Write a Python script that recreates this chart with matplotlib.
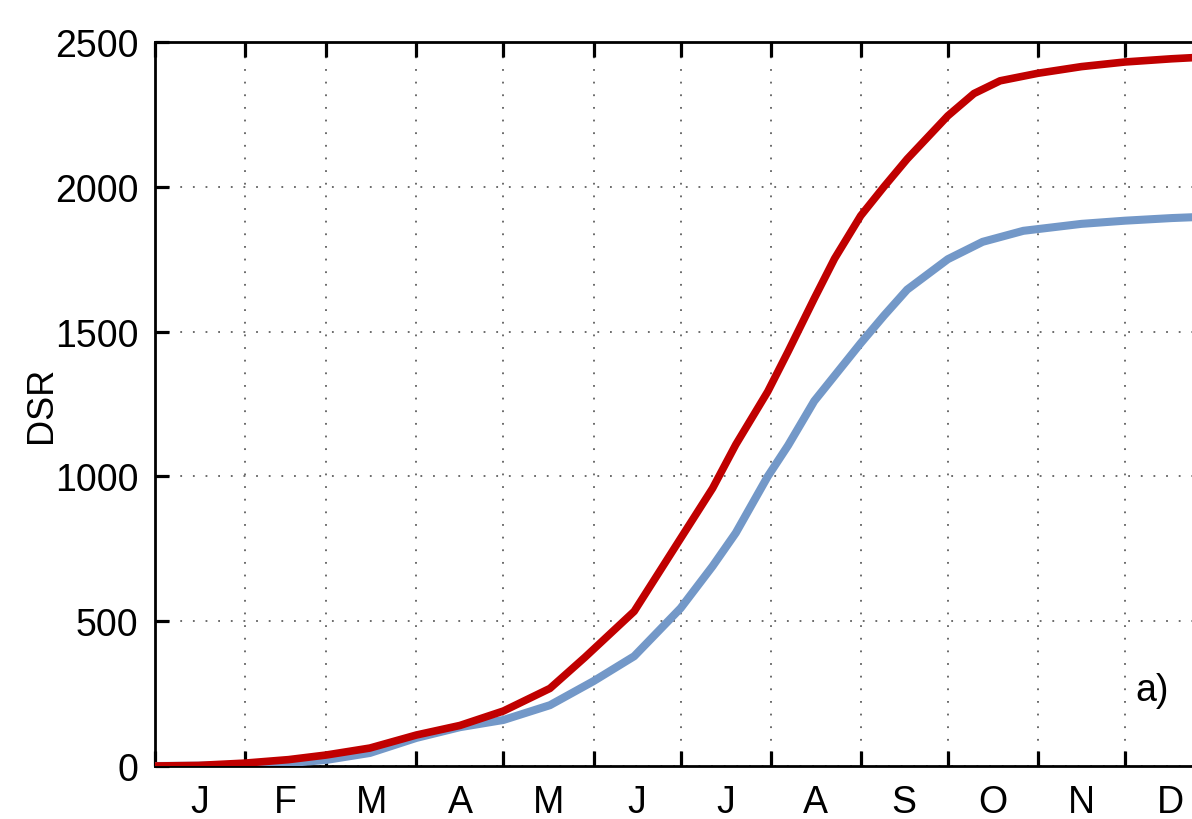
import matplotlib
matplotlib.use("Agg")
import matplotlib.pyplot as plt
import numpy as np

# ---- data (day of year -> cumulative DSR) ----
month_labels = ["J", "F", "M", "A", "M", "J", "J", "A", "S", "O", "N", "D"]
month_days = [31, 28, 31, 30, 31, 30, 31, 31, 30, 31, 30, 31]

red_days = [0, 15, 31, 46, 59, 74, 90, 105, 120, 136, 148, 165, 181, 192, 200,
            211, 218, 227, 234, 243, 251, 259, 273, 282, 291, 304, 319, 334, 350, 365]
red_vals = [0, 2, 10, 22, 38, 62, 107, 140, 190, 268, 375, 534, 786, 959, 1110,
            1293, 1431, 1614, 1752, 1900, 2000, 2096, 2245, 2322, 2366, 2392, 2415, 2431, 2442, 2450]

blue_days = [0, 15, 31, 46, 59, 74, 90, 105, 120, 136, 151, 165, 181, 192, 200,
             211, 218, 227, 243, 251, 259, 273, 285, 299, 319, 334, 350, 365]
blue_vals = [0, 1, 5, 10, 21, 45, 97, 134, 159, 210, 293, 379, 545, 690, 805,
             1000, 1107, 1260, 1460, 1555, 1645, 1750, 1810, 1848, 1872, 1883, 1892, 1898]

y_ticks = [0, 500, 1000, 1500, 2000, 2500]
panel_label = "a)"
y_label = "DSR"

# ---- figure ----
plt.rcParams['font.family'] = ['Liberation Sans', 'DejaVu Sans']
fig = plt.figure(figsize=(11.92, 8.2), dpi=100)
ax = fig.add_axes([155/1192, 1 - 767/820, (1215 - 155)/1192, (767 - 43)/820])

ax.plot(blue_days, blue_vals, color='#7398c8', lw=5.8, solid_capstyle='round',
        solid_joinstyle='round', zorder=3)
ax.plot(red_days, red_vals, color='#c00000', lw=5.5, solid_capstyle='round',
        solid_joinstyle='round', zorder=4)

bounds = np.concatenate([[0], np.cumsum(month_days)])
mids = (bounds[:-1] + bounds[1:]) / 2

ax.set_xlim(0, 365)
ax.set_ylim(0, 2500)
ax.set_xticks(bounds)
ax.set_xticklabels([])
ax.set_xticks(mids, minor=True)
ax.set_xticklabels(month_labels, minor=True)
ax.set_yticks(y_ticks)
ax.set_yticklabels([str(v) for v in y_ticks])

ax.tick_params(axis='x', which='major', direction='in', length=11, width=2.3,
               top=True, bottom=True)
ax.tick_params(axis='x', which='minor', length=0, pad=13, labelsize=27)
ax.tick_params(axis='y', which='major', direction='in', length=10, width=2.3,
               left=True, right=True, pad=12, labelsize=27)

for s in ax.spines.values():
    s.set_linewidth(2)

ax.grid(True, which='major', color='#606060', linestyle=(0, (1, 6)), linewidth=1.3)
ax.set_axisbelow(True)

ax.set_ylabel(y_label, fontsize=26, labelpad=-3)
ax.text(0.9406, 0.105, panel_label, transform=ax.transAxes, fontsize=27,
        ha='center', va='center')

fig.savefig("out.png", dpi=100)
